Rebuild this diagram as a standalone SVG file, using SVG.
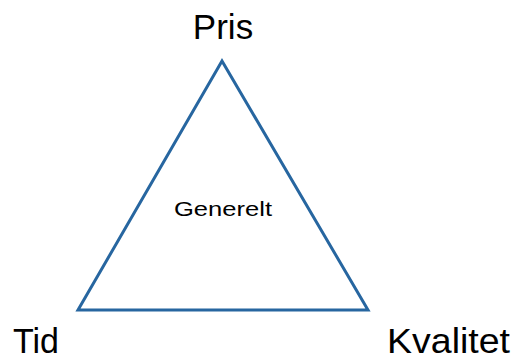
<svg xmlns="http://www.w3.org/2000/svg" width="516" height="360" viewBox="0 0 516 360">
<style>
.lbl{font-family:"Liberation Sans",Arial,sans-serif;fill:#000;}
.big{font-size:35px;}
.small{font-size:20px;}
.tri{fill:#fff;stroke:#2766a0;stroke-width:3;stroke-linejoin:miter;}
</style>
<rect width="516" height="360" fill="#fff"/>
<g id="triangle">
<polygon class="tri" points="222,61 78,310 368,310"/>
</g>
<g id="pris"><text class="lbl big" x="223" y="39" text-anchor="middle">Pris</text></g>
<g id="tid"><text class="lbl big" x="13" y="353" textLength="46" lengthAdjust="spacingAndGlyphs">Tid</text></g>
<g id="kvalitet"><text class="lbl big" x="387" y="353" textLength="123" lengthAdjust="spacingAndGlyphs">Kvalitet</text></g>
<g id="generelt"><text class="lbl small" x="174" y="216" textLength="98" lengthAdjust="spacingAndGlyphs">Generelt</text></g>
<g id="connectors"></g>
</svg>
